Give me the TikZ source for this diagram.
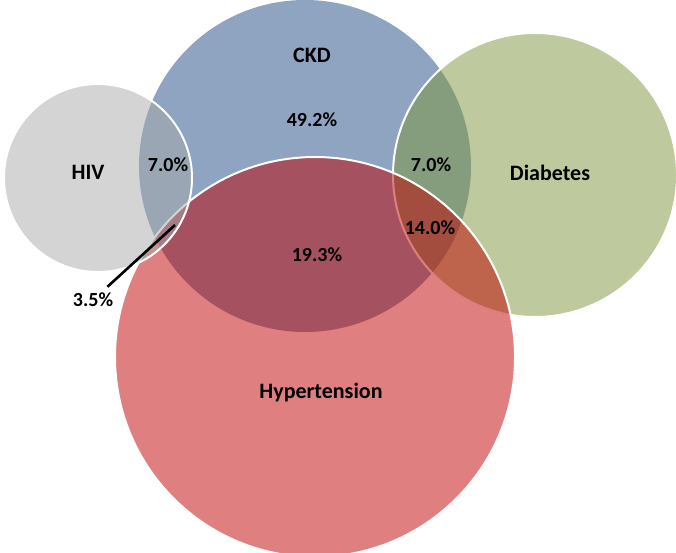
\documentclass[tikz,border=0pt]{standalone}
\usepackage{fontspec}
\setmainfont{Carlito}
\usepackage{xcolor}
\usepackage{tikz}
\usetikzlibrary{positioning, calc}
\definecolor{ckdblue}{RGB}{29,73,131}
\definecolor{diabgreen}{RGB}{125,149,59}
\definecolor{hyperred}{RGB}{191,0,0}
\definecolor{hivgray}{RGB}{169,169,169}

\begin{document}
\begin{tikzpicture}[x=1pt, y=-1pt,
    venn/.style={circle, fill opacity=0.5, draw=white, line width=2pt, inner sep=0pt},
    setname/.style={font=\bfseries\fontsize{22}{26}\selectfont, text=black},
    share/.style={font=\bfseries\fontsize{20}{24}\selectfont, text=black},
    leader/.style={draw=black, line width=2.6pt, shorten >=4pt}]
    \useasboundingbox (0,0) rectangle (676,552);
    % circles, back to front
    \node[venn, fill=ckdblue, draw=none, minimum size=332] (ckd) at (305,166) {};
    \node[venn, fill=diabgreen, minimum size=284] (diab) at (535,175) {};
    \node[venn, fill=hyperred, minimum size=400] (hyper) at (315,357) {};
    \node[venn, fill=hivgray, minimum size=188] (hiv) at (98,178) {};
    % names
    \node[setname] (ckdname) at (312,55) {CKD};
    \node[setname] (hivname) at (88,172) {HIV};
    \node[setname] (diabname) at (550,173) {Diabetes};
    \node[setname] (hypername) at (321,393) {Hypertension};
    % shares
    \node[share] (ckdonly) at (312,120) {49.2\%};
    \node[share] (hivckd) at (168,165) {7.0\%};
    \node[share] (ckddiab) at (431,165) {7.0\%};
    \node[share] (ckddiabhyper) at (430,228) {14.0\%};
    \node[share] (ckdhyper) at (317,255) {19.3\%};
    \node[share] (hivckdhyper) at (93,300) {3.5\%};
    \coordinate (tri) at (175,225);
    \draw[leader] (tri) -- (hivckdhyper);
\end{tikzpicture}
\end{document}
